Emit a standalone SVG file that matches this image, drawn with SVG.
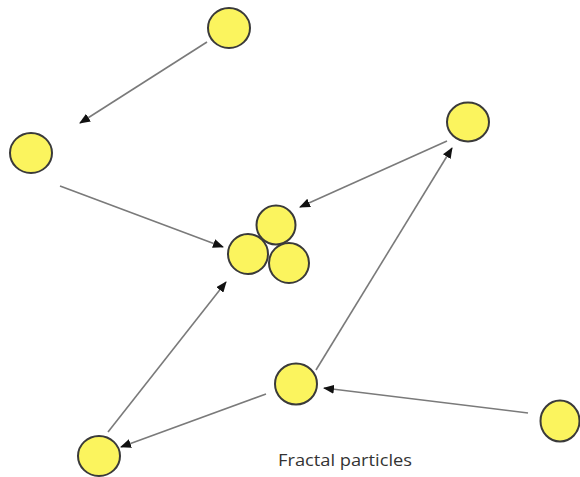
<svg xmlns="http://www.w3.org/2000/svg" width="580" height="477" viewBox="0 0 580 477">
<defs>
<style>
.p{fill:#FBF45E;stroke:#3a3a3a;stroke-width:2}
.c line{stroke:#7a7a7a;stroke-width:1.6;marker-end:url(#ah)}
.t{font-family:"Open Sans","Liberation Sans",sans-serif;font-size:16px;fill:#333}
</style>
<marker id="ah" viewBox="0 0 11 9" refX="10" refY="4.5" markerWidth="11" markerHeight="9" markerUnits="userSpaceOnUse" orient="auto">
<path d="M0,0 L11,4.5 L0,9 z" fill="#111"/>
</marker>
</defs>
<rect width="580" height="477" fill="#fff"/>
<g class="c" id="connectors">
<line x1="207" y1="42" x2="80" y2="123"/>
<line x1="60" y1="186" x2="223" y2="247"/>
<line x1="447" y1="141" x2="300" y2="207"/>
<line x1="108" y1="432" x2="226" y2="282"/>
<line x1="316" y1="370" x2="452" y2="148"/>
<line x1="266" y1="394" x2="121" y2="447"/>
<line x1="528" y1="413" x2="324" y2="388"/>
</g>
<g id="n-top"><ellipse class="p" cx="229" cy="28" rx="21" ry="20"/></g>
<g id="n-left"><ellipse class="p" cx="31" cy="153" rx="21" ry="20"/></g>
<g id="n-right"><ellipse class="p" cx="468" cy="122" rx="21" ry="19.5"/></g>
<g id="n-cluster">
<circle class="p" cx="276" cy="225" r="19.5"/>
<circle class="p" cx="248" cy="254" r="20"/>
<circle class="p" cx="289" cy="263" r="20"/>
</g>
<g id="n-mid"><ellipse class="p" cx="296" cy="384" rx="21" ry="20.5"/></g>
<g id="n-bottomleft"><ellipse class="p" cx="99" cy="456" rx="21" ry="20"/></g>
<g id="n-bottomright"><ellipse class="p" cx="560" cy="421" rx="19.5" ry="20.5"/></g>
<text class="t" x="278" y="466" textLength="134" lengthAdjust="spacingAndGlyphs">Fractal particles</text>
</svg>
